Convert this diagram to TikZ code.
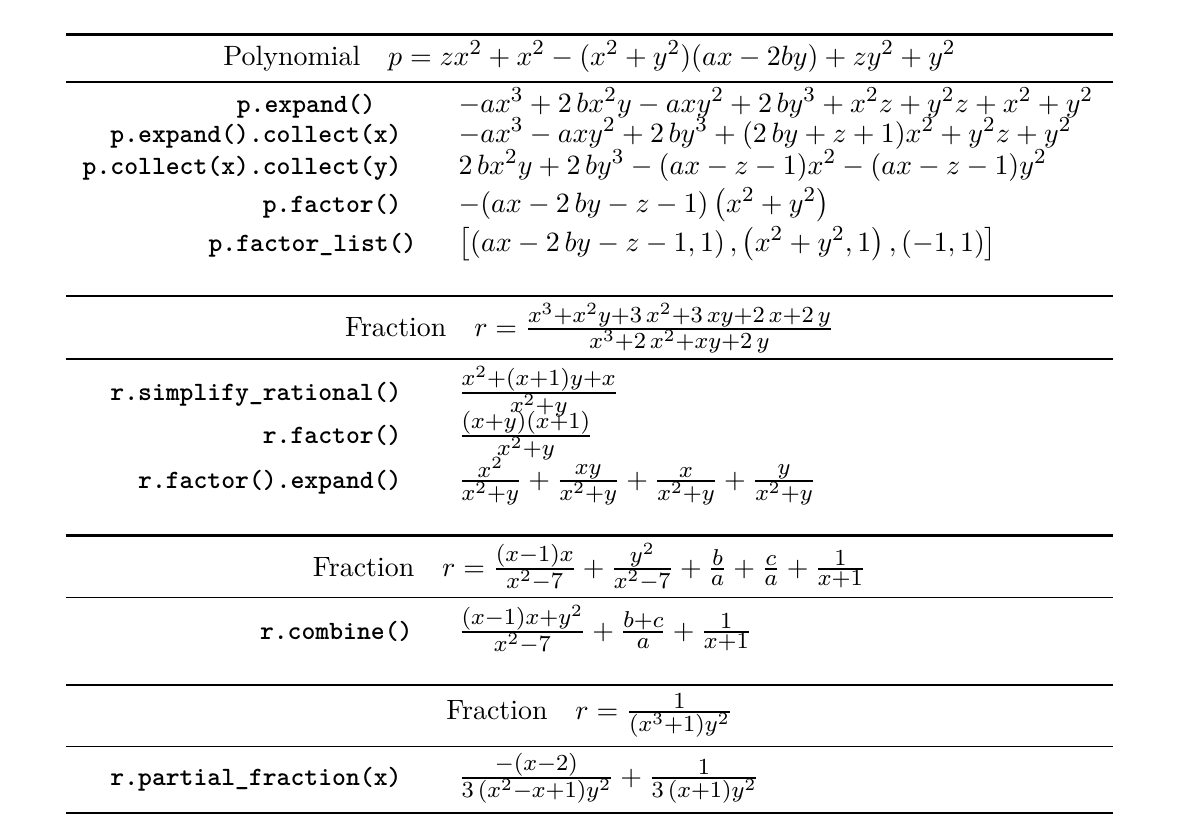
\RequirePackage{fix-cm}
\documentclass[tikz,border=0pt]{standalone}
\usepackage{amsmath}
\usepackage{amssymb}
\usepackage{tikz}
\DeclareMathSizes{10.57}{10.57}{8.7}{6.5}
\DeclareMathSizes{10.58}{10.58}{8.1}{6}
\newcommand\exprsize{\fontsize{10.57}{12.7}\selectfont}
\newcommand\polysize{\fontsize{10.58}{12.7}\selectfont}

\begin{document}
\begin{tikzpicture}[x=0.3788pt,y=-0.3788pt,
  code node/.style={anchor=base east,inner sep=0pt,font=\ttfamily\bfseries},
  expr node/.style={anchor=base west,inner sep=0pt,font=\exprsize},
  head node/.style={anchor=base,inner sep=0pt,font=\exprsize},
  poly/.style={font=\polysize},
  heavy rule/.style={line width=0.8pt},
  light rule/.style={line width=0.5pt}]

  \useasboundingbox (0,0) rectangle (1196,838);

  % rules
  \foreach \y in {34.5,296,535.5,685,813}
    \draw[heavy rule] (66,\y) -- (1113,\y);
  \foreach \y in {82,359,597.5,746.5}
    \draw[light rule] (66,\y) -- (1113,\y);

  % polynomial
  \node[head node,poly] (h1) at (589.5,65) {Polynomial\quad $p = zx^2 + x^2 - (x^2 + y^2)(ax - 2by) + zy^2 + y^2$};
  \node[code node] (c1) at (376,112) {p.expand()};
  \node[code node] (c2) at (402,142) {p.expand().collect(x)};
  \node[code node] (c3) at (402,174) {p.collect(x).collect(y)};
  \node[code node] (c4) at (402,212) {p.factor()};
  \node[code node] (c5) at (417,251) {p.factor\_list()};
  \node[expr node,poly] (e1) at (458,112) {$-ax^{3} + 2 \, bx^{2}y - axy^{2} + 2 \, by^{3} + x^{2}z + y^{2}z + x^{2} + y^{2}$};
  \node[expr node,poly] (e2) at (458,142) {$-ax^{3} - axy^{2} + 2 \, by^{3} + (2 \, by + z + 1)x^{2} + y^{2}z + y^{2}$};
  \node[expr node,poly] (e3) at (458,174) {$2 \, bx^{2}y + 2 \, by^{3} - (ax - z - 1)x^{2} - (ax - z - 1)y^{2}$};
  \node[expr node,poly] (e4) at (458,212) {$-(ax - 2 \, by - z - 1)\left(x^{2} + y^{2}\right)$};
  \node[expr node,poly] (e5) at (458,251) {$\left[\left(ax - 2 \, by - z - 1, 1\right), \left(x^{2} + y^{2}, 1\right), \left(-1, 1\right)\right]$};

  % first fraction
  \node[head node] (h2) at (589.5,336) {Fraction\quad $r = \frac{x^{3} + x^{2}y + 3 \, x^{2} + 3 \, xy + 2 \, x + 2 \, y}{x^{3} + 2 \, x^{2} + xy + 2 \, y}$};
  \node[code node] (c6) at (402,400) {r.simplify\_rational()};
  \node[code node] (c7) at (402,443) {r.factor()};
  \node[code node] (c8) at (402,488) {r.factor().expand()};
  \node[expr node] (e6) at (458,400) {$\frac{x^{2} + (x + 1)y + x}{x^{2} + y}$};
  \node[expr node] (e7) at (458,443) {$\frac{(x + y)(x + 1)}{x^{2} + y}$};
  \node[expr node] (e8) at (458,488) {$\frac{x^{2}}{x^{2} + y} + \frac{xy}{x^{2} + y} + \frac{x}{x^{2} + y} + \frac{y}{x^{2} + y}$};

  % second fraction
  \node[head node] (h3) at (589.5,576) {Fraction\quad $r = \frac{(x - 1)x}{x^{2} - 7} + \frac{y^{2}}{x^{2} - 7} + \frac{b}{a} + \frac{c}{a} + \frac{1}{x + 1}$};
  \node[code node] (c9) at (413,639) {r.combine()};
  \node[expr node] (e9) at (458,639) {$\frac{(x - 1)x + y^{2}}{x^{2} - 7} + \frac{b + c}{a} + \frac{1}{x + 1}$};

  % third fraction
  \node[head node] (h4) at (589.5,719) {Fraction\quad $r = \frac{1}{\left(x^{3} + 1\right)y^{2}}$};
  \node[code node] (c10) at (402,785) {r.partial\_fraction(x)};
  \node[expr node] (e10) at (458,785) {$\frac{-(x - 2)}{3 \, \left(x^{2} - x + 1\right)y^{2}} + \frac{1}{3 \, \left(x + 1\right)y^{2}}$};
\end{tikzpicture}
\end{document}
